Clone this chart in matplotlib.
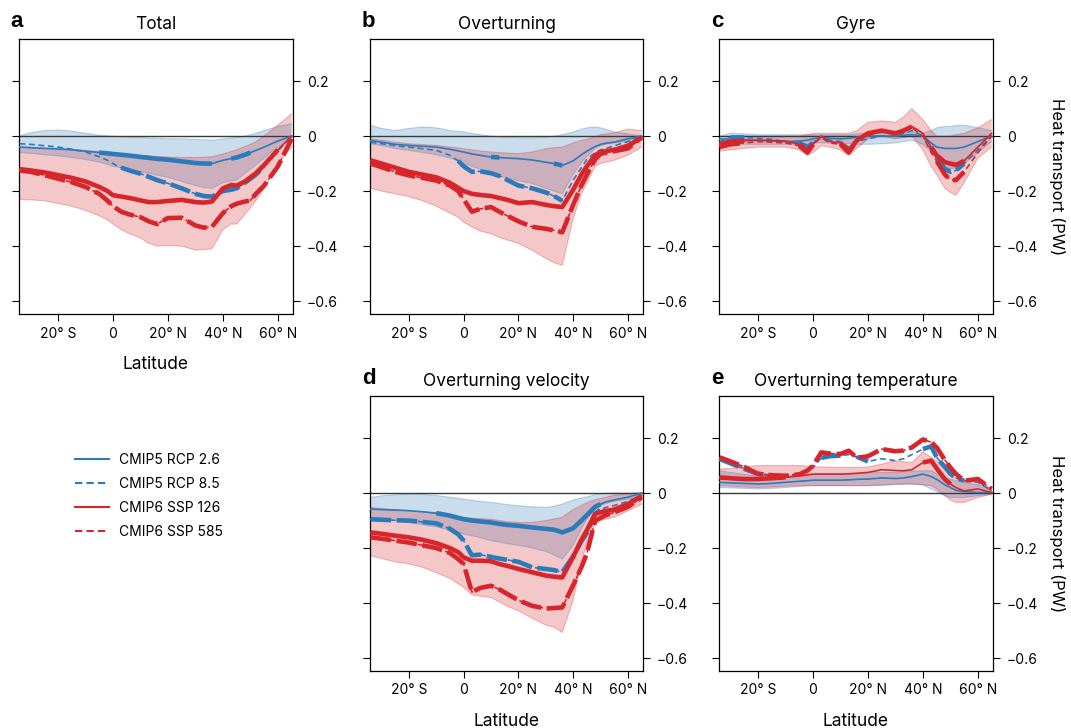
import numpy as np
import matplotlib.pyplot as plt
from matplotlib.lines import Line2D

plt.rcParams['font.family'] = ['Inter', 'DejaVu Sans']

lat = np.array([-34, -30, -25, -20, -15, -10, -5, -2, 0, 3, 6, 10, 13, 16, 20, 25,
                30, 33, 36, 40, 43, 45, 48, 50, 52, 55, 60, 65])

# a  Total
tot_rcp26 = [-0.04, -0.042, -0.045, -0.047, -0.05, -0.055, -0.06, -0.063, -0.065, -0.068, -0.071, -0.076, -0.079, -0.083,
             -0.086, -0.092, -0.098, -0.1, -0.1, -0.088, -0.082, -0.078, -0.068, -0.06, -0.052, -0.04, -0.018, 0.0]
tot_rcp85 = [-0.028, -0.03, -0.035, -0.04, -0.048, -0.058, -0.075, -0.088, -0.1, -0.115, -0.125, -0.137, -0.148, -0.16,
             -0.172, -0.19, -0.21, -0.218, -0.22, -0.2, -0.195, -0.19, -0.17, -0.155, -0.14, -0.11, -0.055, 0.0]
tot_ssp126 = [-0.12, -0.125, -0.132, -0.142, -0.152, -0.165, -0.185, -0.2, -0.215, -0.22, -0.225, -0.234, -0.24, -0.24,
              -0.236, -0.232, -0.24, -0.242, -0.238, -0.19, -0.178, -0.18, -0.165, -0.15, -0.135, -0.105, -0.05, 0.0]
tot_ssp585 = [-0.125, -0.13, -0.142, -0.155, -0.168, -0.185, -0.21, -0.235, -0.255, -0.275, -0.285, -0.295, -0.31, -0.32,
              -0.298, -0.297, -0.325, -0.333, -0.33, -0.28, -0.255, -0.246, -0.238, -0.234, -0.21, -0.18, -0.11, -0.01]
tot_c5_hi = [0.0, 0.012, 0.02, 0.022, 0.018, 0.01, 0.003, 0.001, 0.0, -0.002, -0.003, -0.005, -0.007, -0.008,
             -0.01, -0.01, -0.012, -0.013, -0.015, -0.01, -0.007, -0.005, 0.0, 0.005, 0.01, 0.02, 0.035, 0.045]
tot_c5_lo = [-0.06, -0.063, -0.068, -0.072, -0.078, -0.085, -0.095, -0.103, -0.11, -0.115, -0.12, -0.13, -0.135, -0.142,
             -0.15, -0.165, -0.18, -0.187, -0.19, -0.17, -0.163, -0.16, -0.135, -0.12, -0.105, -0.08, -0.04, -0.01]
tot_c6_hi = [-0.04, -0.042, -0.044, -0.046, -0.048, -0.052, -0.056, -0.058, -0.06, -0.063, -0.066, -0.07, -0.072, -0.074,
             -0.076, -0.078, -0.078, -0.077, -0.075, -0.065, -0.056, -0.05, -0.038, -0.03, -0.02, 0.0, 0.04, 0.08]
tot_c6_lo = [-0.23, -0.232, -0.235, -0.245, -0.255, -0.27, -0.29, -0.305, -0.32, -0.34, -0.355, -0.37, -0.39, -0.4,
             -0.398, -0.4, -0.415, -0.413, -0.41, -0.34, -0.32, -0.32, -0.285, -0.26, -0.235, -0.19, -0.1, -0.04]
tot_sig = {'rcp26': [(-5, 36), (42, 50)], 'rcp85': [(3, 36), (40, 55)],
           'ssp126': [(-34, 62)], 'ssp585': [(-34, 65)]}

# b  Overturning
ovt_rcp26 = [-0.016, -0.022, -0.03, -0.034, -0.037, -0.04, -0.048, -0.054, -0.058, -0.065, -0.07, -0.076, -0.078, -0.08,
             -0.082, -0.087, -0.095, -0.1, -0.107, -0.09, -0.068, -0.055, -0.038, -0.03, -0.026, -0.022, -0.01, 0.0]
ovt_rcp85 = [-0.022, -0.028, -0.035, -0.04, -0.046, -0.052, -0.07, -0.09, -0.11, -0.13, -0.128, -0.135, -0.145, -0.16,
             -0.18, -0.19, -0.205, -0.218, -0.235, -0.16, -0.115, -0.085, -0.06, -0.05, -0.045, -0.035, -0.02, 0.0]
ovt_ssp126 = [-0.088, -0.1, -0.115, -0.13, -0.14, -0.15, -0.17, -0.188, -0.2, -0.21, -0.214, -0.218, -0.225, -0.232,
              -0.244, -0.24, -0.25, -0.255, -0.258, -0.195, -0.14, -0.11, -0.07, -0.058, -0.055, -0.05, -0.035, -0.005]
ovt_ssp585 = [-0.1, -0.113, -0.13, -0.143, -0.152, -0.162, -0.18, -0.2, -0.23, -0.275, -0.265, -0.258, -0.275, -0.29,
              -0.31, -0.33, -0.337, -0.343, -0.35, -0.25, -0.18, -0.14, -0.085, -0.065, -0.06, -0.055, -0.045, -0.005]
ovt_c5_hi = [0.039, 0.028, 0.02, 0.028, 0.033, 0.03, 0.02, 0.017, 0.015, 0.01, 0.005, 0.0, -0.002, -0.004,
             -0.006, -0.006, -0.004, 0.0, 0.005, 0.015, 0.025, 0.03, 0.033, 0.03, 0.025, 0.015, 0.008, 0.0]
ovt_c5_lo = [-0.028, -0.035, -0.045, -0.052, -0.06, -0.068, -0.08, -0.09, -0.1, -0.11, -0.12, -0.137, -0.145, -0.152,
             -0.162, -0.172, -0.19, -0.2, -0.21, -0.14, -0.095, -0.075, -0.045, -0.035, -0.03, -0.025, -0.02, -0.016]
ovt_c6_hi = [-0.01, -0.015, -0.022, -0.028, -0.031, -0.034, -0.04, -0.043, -0.046, -0.05, -0.054, -0.058, -0.06, -0.062,
             -0.064, -0.058, -0.046, -0.042, -0.04, -0.025, -0.016, -0.012, -0.002, 0.005, 0.008, 0.012, 0.025, 0.02]
ovt_c6_lo = [-0.19, -0.2, -0.21, -0.22, -0.235, -0.255, -0.28, -0.295, -0.313, -0.33, -0.345, -0.355, -0.368, -0.378,
             -0.39, -0.415, -0.445, -0.46, -0.47, -0.3, -0.21, -0.17, -0.11, -0.1, -0.095, -0.088, -0.07, -0.04]
ovt_sig = {'rcp26': [(8, 14), (33, 37)], 'rcp85': [(-2, 37)],
           'ssp126': [(-34, 65)], 'ssp585': [(-34, 65)]}

# c  Gyre
gyr_rcp26 = [-0.01, -0.012, -0.014, -0.015, -0.018, -0.02, -0.018, -0.015, -0.01, -0.005, -0.008, -0.01, -0.008, -0.004,
             0.0, 0.0, 0.0, 0.003, 0.005, 0.0, -0.025, -0.04, -0.045, -0.045, -0.045, -0.04, -0.02, 0.0]
gyr_rcp85 = [-0.02, -0.005, -0.005, -0.008, -0.012, -0.02, -0.025, -0.04, -0.025, 0.0, -0.015, -0.02, -0.04, -0.02,
             -0.01, 0.0, 0.0, 0.01, 0.02, 0.0, -0.05, -0.08, -0.12, -0.13, -0.125, -0.1, -0.05, 0.0]
gyr_ssp126 = [-0.03, -0.02, -0.017, -0.015, -0.016, -0.018, -0.03, -0.055, -0.03, 0.0, -0.02, -0.025, -0.055, -0.015,
              0.01, 0.02, 0.01, 0.02, 0.035, 0.01, -0.04, -0.07, -0.095, -0.1, -0.105, -0.09, -0.04, 0.01]
gyr_ssp585 = [-0.04, -0.03, -0.025, -0.02, -0.022, -0.025, -0.035, -0.06, -0.03, -0.005, -0.025, -0.03, -0.06, -0.015,
              0.0, 0.02, 0.01, 0.02, 0.03, 0.0, -0.06, -0.09, -0.14, -0.16, -0.16, -0.13, -0.06, 0.0]
gyr_c5_hi = [0.0, 0.01, 0.008, 0.005, 0.005, 0.005, 0.005, 0.005, 0.005, 0.005, 0.005, 0.005, 0.005, 0.008,
             0.01, 0.01, 0.01, 0.012, 0.015, 0.01, 0.02, 0.03, 0.035, 0.035, 0.038, 0.04, 0.03, 0.02]
gyr_c5_lo = [-0.03, -0.03, -0.03, -0.03, -0.03, -0.03, -0.03, -0.03, -0.025, -0.025, -0.025, -0.025, -0.028, -0.03,
             -0.03, -0.028, -0.025, -0.02, -0.015, -0.03, -0.055, -0.08, -0.11, -0.12, -0.115, -0.1, -0.06, -0.02]
gyr_c6_hi = [-0.02, 0.0, 0.0, 0.0, 0.0, 0.0, 0.0, 0.005, 0.01, 0.01, 0.01, 0.01, 0.01, 0.02,
             0.05, 0.055, 0.05, 0.07, 0.1, 0.06, 0.02, 0.0, 0.0, 0.0, 0.005, 0.01, 0.03, 0.06]
gyr_c6_lo = [-0.055, -0.05, -0.045, -0.04, -0.04, -0.04, -0.05, -0.07, -0.06, -0.035, -0.04, -0.05, -0.07, -0.045,
             -0.01, 0.0, -0.01, -0.005, 0.0, -0.05, -0.11, -0.14, -0.19, -0.205, -0.215, -0.17, -0.08, -0.04]
gyr_sig = {'rcp26': [], 'rcp85': [(-32, -25), (-5, 0), (45, 58)],
           'ssp126': [(-34, -25), (-8, 0), (10, 16), (20, 30), (33, 36), (43, 58), (62, 65)],
           'ssp585': [(-34, -25), (-8, 0), (10, 16), (44, 56)]}

# d  Overturning velocity
vel_rcp26 = [-0.058, -0.06, -0.062, -0.064, -0.068, -0.073, -0.082, -0.09, -0.095, -0.1, -0.103, -0.107, -0.112, -0.116,
             -0.119, -0.125, -0.13, -0.133, -0.143, -0.128, -0.1, -0.08, -0.05, -0.04, -0.032, -0.025, -0.015, 0.0]
vel_rcp85 = [-0.095, -0.097, -0.099, -0.1, -0.105, -0.11, -0.13, -0.15, -0.173, -0.226, -0.224, -0.232, -0.238, -0.243,
             -0.25, -0.27, -0.276, -0.28, -0.288, -0.23, -0.175, -0.145, -0.076, -0.06, -0.052, -0.045, -0.03, -0.01]
vel_ssp126 = [-0.143, -0.148, -0.155, -0.161, -0.17, -0.182, -0.2, -0.215, -0.234, -0.246, -0.246, -0.248, -0.258, -0.265,
              -0.276, -0.288, -0.3, -0.304, -0.307, -0.232, -0.17, -0.135, -0.076, -0.07, -0.065, -0.06, -0.04, -0.01]
vel_ssp585 = [-0.161, -0.166, -0.173, -0.18, -0.19, -0.2, -0.218, -0.24, -0.258, -0.36, -0.345, -0.337, -0.35, -0.367,
              -0.39, -0.41, -0.42, -0.418, -0.416, -0.335, -0.27, -0.22, -0.1, -0.09, -0.08, -0.07, -0.05, -0.016]
vel_c5_hi = [-0.016, -0.01, -0.006, -0.004, -0.005, -0.009, -0.015, -0.019, -0.022, -0.026, -0.03, -0.034, -0.038, -0.042,
             -0.046, -0.05, -0.052, -0.048, -0.04, -0.025, -0.018, -0.014, -0.006, -0.002, 0.0, 0.0, 0.0, 0.0]
vel_c5_lo = [-0.088, -0.094, -0.1, -0.107, -0.115, -0.123, -0.135, -0.143, -0.149, -0.155, -0.162, -0.173, -0.178, -0.184,
             -0.19, -0.2, -0.212, -0.225, -0.24, -0.19, -0.13, -0.095, -0.06, -0.045, -0.038, -0.03, -0.022, -0.016]
vel_c6_hi = [-0.052, -0.056, -0.06, -0.064, -0.068, -0.074, -0.082, -0.086, -0.088, -0.091, -0.093, -0.095, -0.1, -0.104,
             -0.107, -0.107, -0.1, -0.094, -0.088, -0.06, -0.045, -0.035, -0.024, -0.02, -0.015, -0.008, -0.003, 0.002]
vel_c6_lo = [-0.228, -0.238, -0.25, -0.258, -0.27, -0.29, -0.31, -0.33, -0.343, -0.37, -0.375, -0.38, -0.395, -0.412,
             -0.428, -0.455, -0.48, -0.488, -0.507, -0.39, -0.25, -0.18, -0.115, -0.1, -0.095, -0.088, -0.065, -0.04]
vel_sig = {'rcp26': [(-10, 50)], 'rcp85': [(-34, 50)],
           'ssp126': [(-34, 65)], 'ssp585': [(-34, 65)]}

# e  Overturning temperature
tmp_rcp26 = [0.039, 0.037, 0.035, 0.033, 0.035, 0.039, 0.043, 0.045, 0.047, 0.047, 0.047, 0.047, 0.048, 0.05,
             0.051, 0.055, 0.053, 0.055, 0.06, 0.069, 0.06, 0.05, 0.03, 0.02, 0.01, 0.005, 0.002, 0.002]
tmp_rcp85 = [0.124, 0.108, 0.088, 0.07, 0.064, 0.063, 0.072, 0.082, 0.092, 0.128, 0.134, 0.136, 0.14, 0.132,
             0.115, 0.125, 0.118, 0.125, 0.14, 0.16, 0.17, 0.13, 0.095, 0.07, 0.055, 0.045, 0.039, 0.008]
tmp_ssp126 = [0.057, 0.054, 0.051, 0.051, 0.054, 0.057, 0.062, 0.066, 0.069, 0.069, 0.069, 0.069, 0.07, 0.072,
              0.075, 0.085, 0.082, 0.081, 0.085, 0.111, 0.118, 0.09, 0.05, 0.033, 0.02, 0.008, 0.015, 0.002]
tmp_ssp585 = [0.13, 0.115, 0.095, 0.07, 0.065, 0.063, 0.068, 0.082, 0.1, 0.148, 0.144, 0.142, 0.154, 0.128,
              0.134, 0.16, 0.152, 0.155, 0.166, 0.195, 0.185, 0.166, 0.12, 0.093, 0.07, 0.045, 0.051, 0.015]
tmp_c5_hi = [0.081, 0.075, 0.068, 0.063, 0.063, 0.063, 0.066, 0.068, 0.069, 0.069, 0.069, 0.07, 0.071, 0.072,
             0.074, 0.075, 0.075, 0.078, 0.08, 0.081, 0.081, 0.07, 0.057, 0.05, 0.045, 0.039, 0.03, 0.02]
tmp_c5_lo = [0.02, 0.019, 0.017, 0.015, 0.017, 0.02, 0.024, 0.026, 0.027, 0.027, 0.027, 0.027, 0.027, 0.027,
             0.027, 0.028, 0.03, 0.032, 0.033, 0.03, 0.015, 0.005, -0.01, -0.016, -0.016, -0.016, -0.01, -0.004]
tmp_c6_hi = [0.087, 0.09, 0.095, 0.1, 0.1, 0.1, 0.1, 0.098, 0.096, 0.095, 0.094, 0.093, 0.093, 0.093,
             0.095, 0.105, 0.118, 0.114, 0.111, 0.15, 0.13, 0.118, 0.085, 0.069, 0.055, 0.045, 0.057, 0.008]
tmp_c6_lo = [0.027, 0.025, 0.022, 0.02, 0.022, 0.025, 0.027, 0.027, 0.027, 0.027, 0.027, 0.027, 0.027, 0.027,
             0.027, 0.03, 0.033, 0.033, 0.033, 0.03, 0.027, 0.015, -0.01, -0.025, -0.034, -0.034, -0.016, -0.004]
tmp_sig = {'rcp26': [], 'rcp85': [(-34, -15), (3, 10), (15, 20), (38, 55)],
           'ssp126': [(-34, -10), (38, 50)], 'ssp585': [(-34, 65)]}

xticks = [-20, 0, 20, 40, 60]
xticklabels = ['20° S', '0', '20° N', '40° N', '60° N']
yticks = [-0.6, -0.4, -0.2, 0, 0.2]
yticklabels = ['\u22120.6', '\u22120.4', '\u22120.2', '0', '0.2']
scen_labels = ['CMIP5 RCP 2.6', 'CMIP5 RCP 8.5', 'CMIP6 SSP 126', 'CMIP6 SSP 585']

blue = '#2b7bba'
red = '#d7262b'
thin_dash = (0, (3.5, 2.2))
thick_dash = (0, (4.5, 1.2))


def in_ranges(ranges):
    m = np.zeros(len(lat), dtype=bool)
    for a, b in ranges:
        m |= (lat >= a) & (lat <= b)
    return m


def panel(ax, s26, s85, s126, s585, c5lo, c5hi, c6lo, c6hi, sig, title, letter):
    for lo, hi, col in [(c5lo, c5hi, blue), (c6lo, c6hi, red)]:
        ax.fill_between(lat, lo, hi, facecolor=col, alpha=0.25, edgecolor='none')
        ax.plot(lat, lo, color=col, lw=0.8, alpha=0.3)
        ax.plot(lat, hi, color=col, lw=0.8, alpha=0.3)
    ax.axhline(0, color='#3a3a3a', lw=1.0, zorder=2)
    series = [(s26, blue, '-', 'rcp26'), (s85, blue, '--', 'rcp85'),
              (s126, red, '-', 'ssp126'), (s585, red, '--', 'ssp585')]
    for y, col, ls, key in series:
        y = np.array(y)
        ax.plot(lat, y, color=col, lw=1.2, ls='-' if ls == '-' else thin_dash, zorder=3)
        m = in_ranges(sig[key])
        ax.plot(lat, np.where(m, y, np.nan), color=col, lw=3.3,
                ls='-' if ls == '-' else thick_dash, zorder=4, solid_capstyle='butt')
    ax.set_xlim(-34.2, 65.5)
    ax.set_ylim(-0.647, 0.353)
    ax.set_xticks(xticks)
    ax.set_xticklabels(xticklabels)
    ax.set_yticks(yticks)
    ax.set_yticklabels(yticklabels)
    ax.tick_params(axis='y', left=True, right=True, labelleft=False, labelright=True,
                   length=5, width=0.8, labelsize=10, pad=5)
    ax.tick_params(axis='x', length=5, width=0.8, labelsize=10, pad=4)
    for sp in ax.spines.values():
        sp.set_linewidth(0.9)
    ax.set_title(title, fontsize=12.5, pad=7)
    ax.text(-0.03, 1.025, letter, transform=ax.transAxes, fontsize=16,
            fontweight='black', family='Liberation Sans', va='bottom', ha='left')


fig = plt.figure(figsize=(10.71, 7.28), dpi=100)
W, H = 1071, 728


def add_ax(l, t, r, b):
    return fig.add_axes([l / W, 1 - b / H, (r - l) / W, (b - t) / H])


ax_a = add_ax(19, 39, 293, 314)
ax_b = add_ax(370, 39, 643, 314)
ax_c = add_ax(719, 39, 993, 314)
ax_d = add_ax(370, 396, 643, 671)
ax_e = add_ax(719, 396, 993, 671)

panel(ax_a, tot_rcp26, tot_rcp85, tot_ssp126, tot_ssp585, tot_c5_lo, tot_c5_hi, tot_c6_lo, tot_c6_hi, tot_sig, 'Total', 'a')
panel(ax_b, ovt_rcp26, ovt_rcp85, ovt_ssp126, ovt_ssp585, ovt_c5_lo, ovt_c5_hi, ovt_c6_lo, ovt_c6_hi, ovt_sig, 'Overturning', 'b')
panel(ax_c, gyr_rcp26, gyr_rcp85, gyr_ssp126, gyr_ssp585, gyr_c5_lo, gyr_c5_hi, gyr_c6_lo, gyr_c6_hi, gyr_sig, 'Gyre', 'c')
panel(ax_d, vel_rcp26, vel_rcp85, vel_ssp126, vel_ssp585, vel_c5_lo, vel_c5_hi, vel_c6_lo, vel_c6_hi, vel_sig, 'Overturning velocity', 'd')
panel(ax_e, tmp_rcp26, tmp_rcp85, tmp_ssp126, tmp_ssp585, tmp_c5_lo, tmp_c5_hi, tmp_c6_lo, tmp_c6_hi, tmp_sig, 'Overturning temperature', 'e')

for ax in [ax_a, ax_d, ax_e]:
    ax.set_xlabel('Latitude', fontsize=12.5, labelpad=11)
for ax in [ax_c, ax_e]:
    ax.yaxis.set_label_position('right')
    ax.set_ylabel('Heat transport (PW)', fontsize=12, rotation=270, labelpad=19)

handles = [Line2D([], [], color=blue, lw=1.5), Line2D([], [], color=blue, lw=1.5, ls=(0, (3.5, 2))),
           Line2D([], [], color=red, lw=1.5), Line2D([], [], color=red, lw=1.5, ls=(0, (3.5, 2)))]
fig.legend(handles, scen_labels, loc='upper left', bbox_to_anchor=(62 / W, 1 - 440 / H),
           frameon=False, fontsize=10, handlelength=2.5, handletextpad=0.7, labelspacing=0.72)

fig.savefig('out.png', dpi=100)
